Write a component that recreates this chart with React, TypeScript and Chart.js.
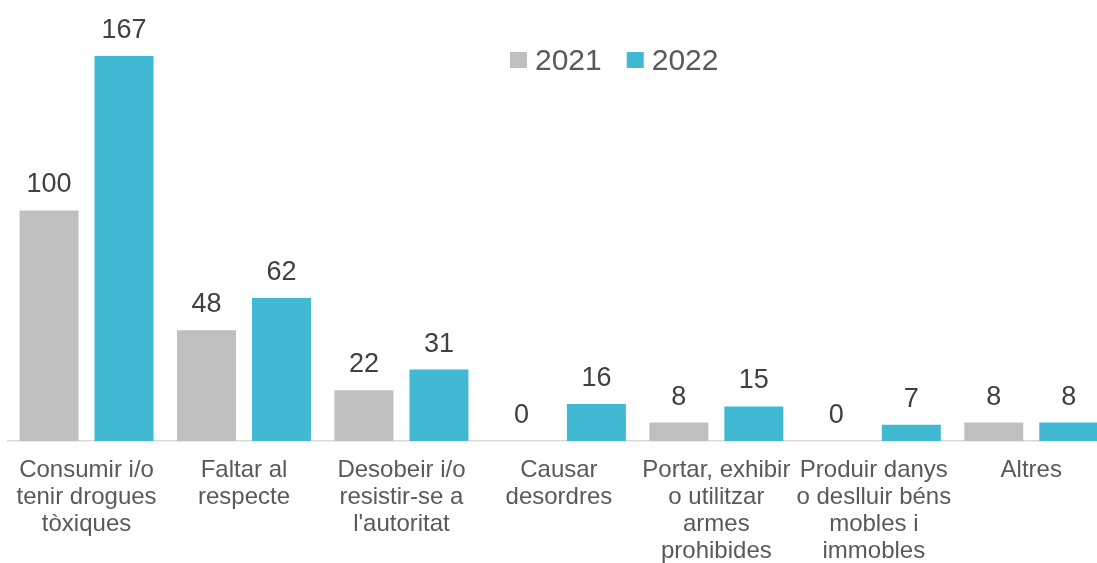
import React, { useEffect, useRef } from "react";
import { Chart, registerables } from "chart.js";

Chart.register(...registerables);

const categories: string[][] = [
  ["Consumir i/o", "tenir drogues", "tòxiques"],
  ["Faltar al", "respecte"],
  ["Desobeir i/o", "resistir-se a", "l'autoritat"],
  ["Causar", "desordres"],
  ["Portar, exhibir", "o utilitzar", "armes", "prohibides"],
  ["Produir danys", "o deslluir béns", "mobles i", "immobles"],
  ["Altres"],
];
const values2021: number[] = [100, 48, 22, 0, 8, 0, 8];
const values2022: number[] = [167, 62, 31, 16, 15, 7, 8];
const seriesLabels: string[] = ["2021", "2022"];
const seriesColors: string[] = ["#BFBFBF", "#41B9D3"];

const FONT = "'Liberation Sans', Arial, sans-serif";

const valueLabels = {
  id: "valueLabels",
  afterDatasetsDraw(chart: any) {
    const ctx = chart.ctx;
    ctx.save();
    ctx.font = `27px ${FONT}`;
    ctx.fillStyle = "#404040";
    ctx.textAlign = "center";
    ctx.textBaseline = "alphabetic";
    chart.data.datasets.forEach((ds: any, di: number) => {
      const meta = chart.getDatasetMeta(di);
      meta.data.forEach((bar: any, i: number) => {
        ctx.fillText(String(ds.data[i]), bar.x, bar.y - 18);
      });
    });
    ctx.restore();
  },
};

const customLegend = {
  id: "customLegend",
  afterDraw(chart: any) {
    const ctx = chart.ctx;
    ctx.save();
    ctx.font = `30px ${FONT}`;
    ctx.textBaseline = "alphabetic";
    ctx.textAlign = "left";
    let x = 510;
    chart.data.datasets.forEach((ds: any) => {
      ctx.fillStyle = ds.backgroundColor;
      ctx.fillRect(x, 52, 17, 16);
      ctx.fillStyle = "#595959";
      ctx.fillText(ds.label, x + 25, 70);
      const w = ctx.measureText(ds.label).width;
      x += 25 + w + 25;
    });
    ctx.restore();
  },
};

export default function App() {
  const ref = useRef<HTMLCanvasElement | null>(null);
  useEffect(() => {
    if (!ref.current) return;
    const chart = new Chart(ref.current, {
      type: "bar",
      data: {
        labels: categories,
        datasets: [
          {
            label: seriesLabels[0],
            data: values2021,
            backgroundColor: seriesColors[0],
            categoryPercentage: 0.9524,
            barPercentage: 0.7867,
          },
          {
            label: seriesLabels[1],
            data: values2022,
            backgroundColor: seriesColors[1],
            categoryPercentage: 0.9524,
            barPercentage: 0.7867,
          },
        ],
      },
      options: {
        responsive: false,
        animation: false,
        devicePixelRatio: 1,
        layout: { padding: { left: 7, right: 0, top: 26, bottom: 0 } },
        plugins: {
          legend: { display: false },
          tooltip: { enabled: false },
        },
        scales: {
          x: {
            grid: { display: false, drawTicks: false },
            border: { display: true, color: "#D9D9D9", width: 1.5 },
            ticks: {
              color: "#595959",
              font: { family: FONT, size: 24, lineHeight: 1.12 },
              padding: 16,
              maxRotation: 0,
              minRotation: 0,
              autoSkip: false,
            },
            afterFit: (scale: any) => {
              scale.height = 122;
            },
          },
          y: {
            display: false,
            min: 0,
            max: 180,
          },
        },
      },
      plugins: [valueLabels, customLegend],
    });
    return () => chart.destroy();
  }, []);
  return (
    <div
      style={{
        position: "fixed",
        left: 0,
        top: 0,
        width: 1097,
        height: 563,
        overflow: "hidden",
        background: "#fff",
      }}
    >
      <canvas ref={ref} width={1110} height={563} style={{ width: 1110, height: 563, display: "block" }} />
    </div>
  );
}
